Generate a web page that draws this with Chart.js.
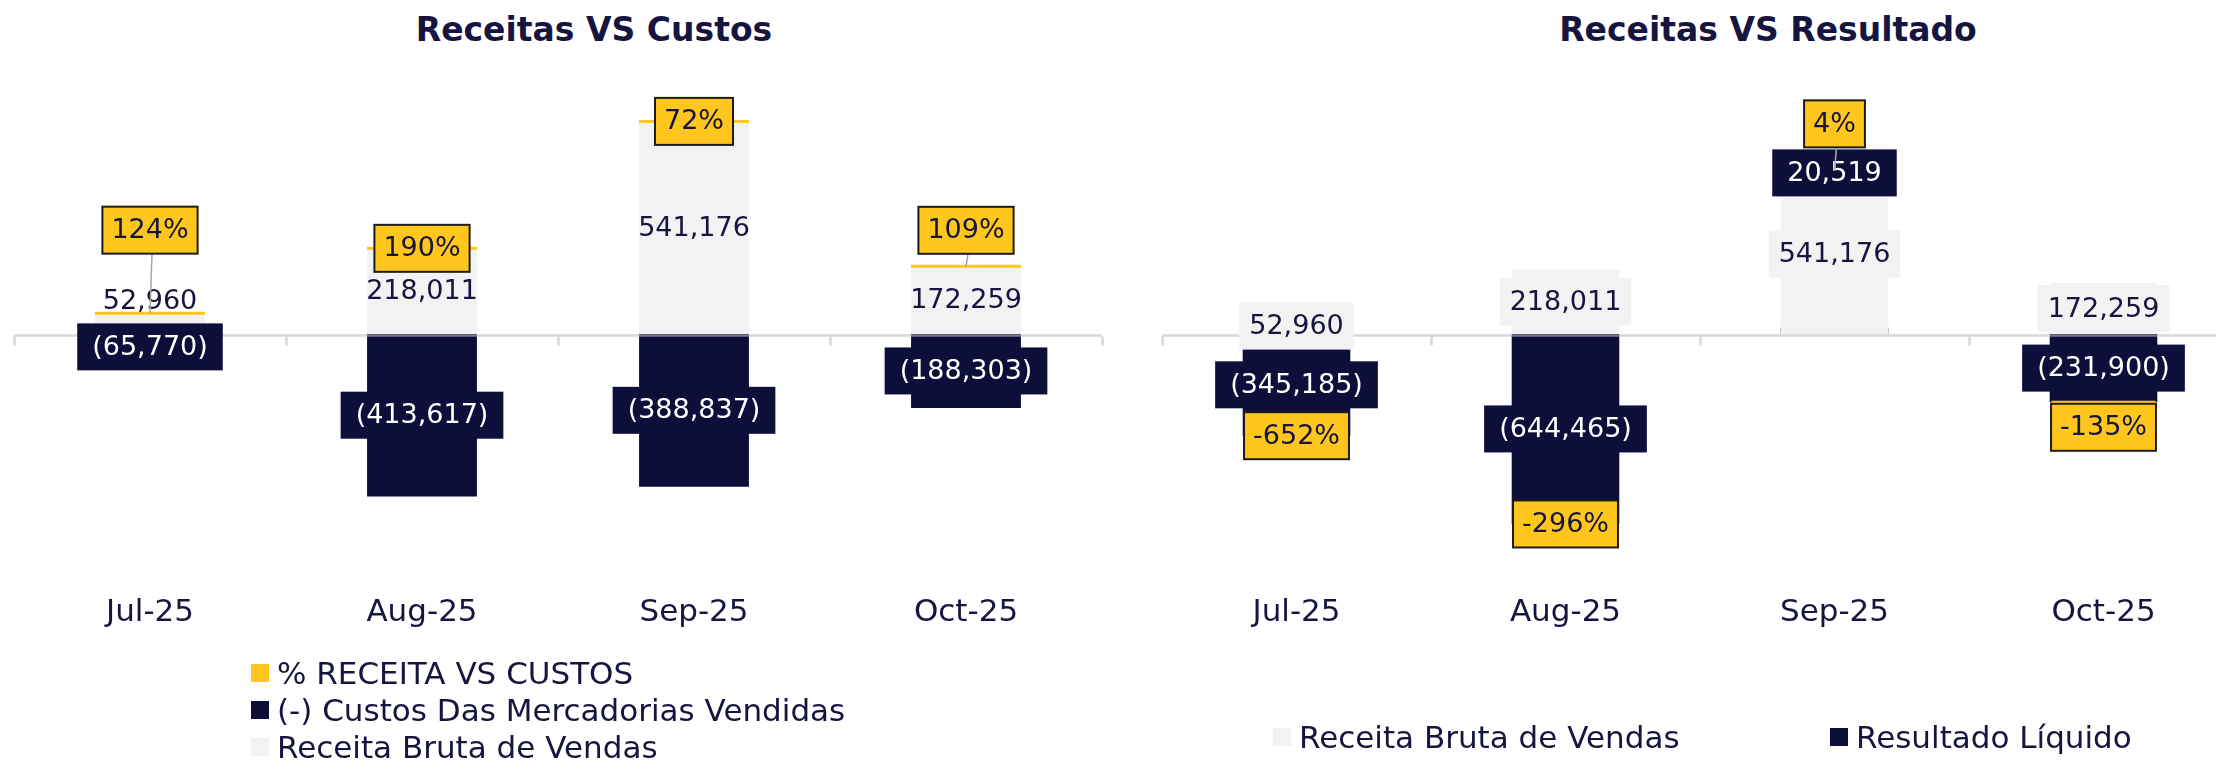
<!DOCTYPE html>
<html>
<head>
<meta charset="utf-8">
<script src="https://cdn.jsdelivr.net/npm/chart.js@4.4.0/dist/chart.umd.min.js"></script>
<style>
  body { margin: 0; width: 2216px; height: 760px; overflow: hidden; position: relative; background: #fff; }
  .title { position: absolute; top: 10px; transform: translateX(-50%); white-space: nowrap;
           font: bold 33px 'DejaVu Sans', sans-serif; color: #15153f; line-height: 40px; }
  .wrap { position: absolute; top: 0; height: 760px; }
  .leg { position: absolute; display: flex; align-items: center; height: 36px; white-space: nowrap;
         font: 31px 'DejaVu Sans', sans-serif; color: #15153f; line-height: 36px; }
  .leg i { display: inline-block; width: 18px; height: 18px; margin-right: 8px; }
</style>
</head>
<body>
<div class="title" style="left:594px">Receitas VS Custos</div>
<div class="title" style="left:1768px">Receitas VS Resultado</div>
<div class="wrap" style="left:0;width:1108px"><canvas id="left"></canvas></div>
<div class="wrap" style="left:1108px;width:1140px"><canvas id="right"></canvas></div>
<div id="legends"></div>
<script>
// dados
const months = ['Jul-25', 'Aug-25', 'Sep-25', 'Oct-25'];
const receita = [52960, 218011, 541176, 172259];
const custos = [-65770, -413617, -388837, -188303];
const resultado = [-345185, -644465, 20519, -231900];
const pctCustos = [124, 190, 72, 109];
const pctResultado = [-652, -296, 4, -135];

// rótulos movidos à mão no original (px)
const shiftPctCustos = [-83, 0, 0, -36];
const shiftPctResultado = [0, 0, -204, 25];
const shiftResultado = [0, 0, -158, 0];

const NAVY = '#0e0e3b', GRAY = '#f2f2f2', YELLOW = '#ffc61e', INK = '#15153f';
const FONT = "'DejaVu Sans', sans-serif";

const fmt = v => v < 0 ? '(' + Math.abs(v).toLocaleString('en-US') + ')' : v.toLocaleString('en-US');
const pct = v => v + '%';

// linha do zero com marcas entre categorias
const zeroAxis = {
  id: 'zeroAxis',
  afterDatasetsDraw(chart) {
    const { ctx, chartArea: a, scales: { y } } = chart;
    const y0 = Math.round(y.getPixelForValue(0)) + 1.5;
    const n = chart.data.labels.length, w = (a.right - a.left) / n;
    ctx.save();
    ctx.strokeStyle = 'rgba(190,190,195,0.6)';
    ctx.lineWidth = 2.5;
    ctx.beginPath();
    ctx.moveTo(a.left, y0);
    ctx.lineTo(a.right, y0);
    for (let i = 0; i <= n; i++) {
      const x = Math.round(a.left + i * w) + 0.5;
      ctx.moveTo(x, y0 + 1);
      ctx.lineTo(x, y0 + 10);
    }
    ctx.stroke();
    ctx.restore();
  }
};

// rótulos de dados (caixas estilo Excel)
const dataLabels = {
  id: 'dataLabels',
  afterDatasetsDraw(chart) {
    const ctx = chart.ctx;
    ctx.save();
    ctx.font = '27px ' + FONT;
    ctx.textAlign = 'center';
    ctx.textBaseline = 'middle';
    for (let d = chart.data.datasets.length - 1; d >= 0; d--) {
      const ds = chart.data.datasets[d], lab = ds.lbl;
      chart.getDatasetMeta(d).data.forEach((el, i) => {
        const text = lab.text[i];
        const x = el.x;
        let y = ds.type === 'line' ? el.y : (el.y + el.base) / 2;
        if (lab.above && Math.abs(el.base - el.y) < 28) y = el.y - 12;
        const dy = lab.shift ? lab.shift[i] : 0;
        y += dy;
        const h = 47;
        if (dy < -30) {
          ctx.strokeStyle = '#a6a6a6';
          ctx.lineWidth = 1.5;
          ctx.beginPath();
          ctx.moveTo(x + 2, y + h / 2);
          ctx.lineTo(x, Math.min(el.y, y + h / 2 + lab.leader));
          ctx.stroke();
        }
        if (lab.fill) {
          const w = ctx.measureText(text).width + 2 * lab.pad;
          ctx.fillStyle = lab.fill;
          ctx.fillRect(x - w / 2, y - h / 2, w, h);
          if (lab.border) {
            ctx.lineWidth = 2;
            ctx.strokeStyle = lab.border;
            ctx.strokeRect(x - w / 2, y - h / 2, w, h);
          }
        }
        ctx.fillStyle = lab.color;
        ctx.fillText(text, x, y + 1);
      });
    }
    ctx.restore();
  }
};

function pctMarks(label, values, texts, shift, leader, order, half) {
  return {
    type: 'line', label: label, data: values, showLine: false, order: order,
    pointStyle: 'line', pointRadius: half, pointHoverRadius: half, pointBorderWidth: 3,
    borderColor: YELLOW, backgroundColor: YELLOW,
    lbl: { text: texts, fill: YELLOW, border: '#1c1c1c', color: INK, pad: 9, shift: shift, leader: leader }
  };
}

function makeChart(id, datasets, ymin, ymax, padLeft, padRight, barPct) {
  return new Chart(document.getElementById(id), {
    type: 'bar',
    data: { labels: months, datasets: datasets },
    plugins: [zeroAxis, dataLabels],
    options: {
      responsive: true,
      maintainAspectRatio: false,
      animation: false,
      events: [],
      datasets: { bar: { grouped: false, categoryPercentage: 1, barPercentage: barPct } },
      layout: { autoPadding: false, padding: { top: 70, bottom: 128.8, left: padLeft, right: padRight } },
      plugins: { legend: { display: false }, tooltip: { enabled: false } },
      scales: {
        x: {
          grid: { display: false, drawTicks: false, tickLength: 0 },
          border: { display: false },
          ticks: { color: INK, padding: 0, font: { family: FONT, size: 31, lineHeight: 1.2 } },
          afterFit: s => { s.paddingLeft = 0; s.paddingRight = 0; }
        },
        y: { display: false, min: ymin, max: ymax }
      }
    }
  });
}

const leftChart = makeChart('left', [
  pctMarks('% RECEITA VS CUSTOS', receita, pctCustos.map(pct), shiftPctCustos, 62, 0, 55),
  { label: '(-) Custos Das Mercadorias Vendidas', data: custos, backgroundColor: NAVY, order: 1,
    lbl: { text: custos.map(fmt), fill: NAVY, color: '#ffffff', pad: 15 } },
  { label: 'Receita Bruta de Vendas', data: receita, backgroundColor: GRAY, order: 2,
    lbl: { text: receita.map(fmt), color: INK, above: true } }
], -662000, 672000, 14, 6, 0.404);

const rightChart = makeChart('right', [
  pctMarks('% RESULTADO', resultado, pctResultado.map(pct), shiftPctResultado, 23, 1, 52),
  { label: 'Receita Bruta de Vendas', data: receita, backgroundColor: GRAY, order: 0,
    lbl: { text: receita.map(fmt), fill: GRAY, color: INK, pad: 10 } },
  { label: 'Resultado Líquido', data: resultado, backgroundColor: NAVY, order: 2,
    lbl: { text: resultado.map(fmt), fill: NAVY, color: '#ffffff', pad: 15, shift: shiftResultado } }
], -882000, 895000, 54, 10, 0.40);

// legendas em HTML
function addLegend(chart, idx, spots) {
  const box = document.getElementById('legends');
  idx.forEach((d, k) => {
    const ds = chart.data.datasets[d];
    const row = document.createElement('div');
    row.className = 'leg';
    row.style.left = spots[k][0] + 'px';
    row.style.top = (spots[k][1] - 18) + 'px';
    const sq = document.createElement('i');
    sq.style.background = ds.type === 'line' ? ds.borderColor : ds.backgroundColor;
    row.appendChild(sq);
    row.appendChild(document.createTextNode(ds.label));
    box.appendChild(row);
  });
}
addLegend(leftChart, [0, 1, 2], [[251, 673], [251, 710], [251, 747]]);
addLegend(rightChart, [1, 2], [[1273, 737], [1830, 737]]);
</script>
</body>
</html>
